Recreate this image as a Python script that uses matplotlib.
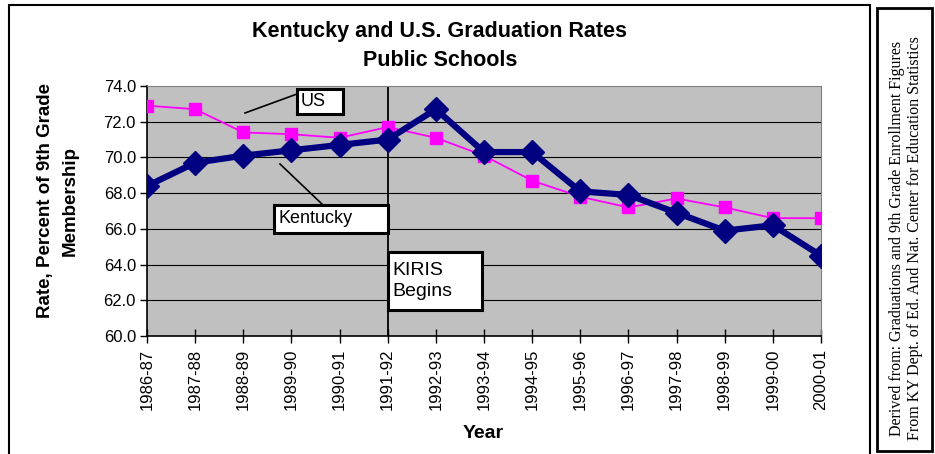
import numpy as np
import matplotlib.pyplot as plt
from matplotlib.patches import Rectangle

plt.rcParams['font.family'] = ['Liberation Sans', 'DejaVu Sans']

years = ['1986-87', '1987-88', '1988-89', '1989-90', '1990-91', '1991-92', '1992-93',
         '1993-94', '1994-95', '1995-96', '1996-97', '1997-98', '1998-99', '1999-00', '2000-01']
kentucky = [68.4, 69.7, 70.1, 70.4, 70.7, 71.0, 72.7, 70.3, 70.3, 68.1, 67.9, 66.9, 65.9, 66.2, 64.5]
us = [72.9, 72.7, 71.4, 71.3, 71.1, 71.7, 71.1, 70.1, 68.7, 67.8, 67.2, 67.7, 67.2, 66.6, 66.6]
yticks = [60.0, 62.0, 64.0, 66.0, 68.0, 70.0, 72.0, 74.0]

W, H = 935, 454
fig = plt.figure(figsize=(W/100, H/100), dpi=100)

# plot area in pixels: left 147, right 821, top 86, bottom 336
ax = fig.add_axes([147/W, 1-336/H, (821-147)/W, (336-86)/H])
ax.set_facecolor('#C0C0C0')
x = np.arange(len(years))

for yv in yticks[1:-1]:
    ax.axhline(yv, color='black', lw=0.8, zorder=1)

ax.axvline(5, color='black', lw=1.3, zorder=2)

ax.plot(x, us, color='#FF00FF', lw=1.3, marker='s', ms=8, zorder=3)
ax.plot(x, kentucky, color='#000080', lw=4.5, marker='D', ms=12, zorder=4)

ax.set_xlim(0, len(years)-1)
ax.set_ylim(60, 74)
ax.set_yticks(yticks)
ax.set_yticklabels(['%.1f' % v for v in yticks], fontsize=12)
ax.set_xticks(x)
ax.set_xticklabels(years, rotation=90, fontsize=12)
ax.tick_params(axis='x', direction='inout', length=10, width=1, pad=4)
ax.tick_params(axis='y', direction='out', length=5, width=1, pad=3)
for s in ['top', 'right']:
    ax.spines[s].set_color('#808080')
for s in ['left', 'bottom']:
    ax.spines[s].set_color('black')
    ax.spines[s].set_linewidth(1.2)


def px(xp, yp):
    return (xp-147)/(674/14), 74 - (yp-86)/(250/14)


# annotation boxes
def box(x0, y0, x1, y1):
    a = px(x0, y1)
    b = px(x1, y0)
    ax.add_patch(Rectangle(a, b[0]-a[0], b[1]-a[1], facecolor='white',
                           edgecolor='black', lw=2.2, zorder=6, clip_on=False))

box(297, 89, 343, 114)
ax.text(*px(301, 102), 'US', fontsize=13, va='center', ha='left', zorder=7)
ax.plot(*zip(px(245, 113), px(297, 94)), color='black', lw=1.2, zorder=5)

box(274, 205, 388, 233)
ax.text(*px(279, 219), 'Kentucky', fontsize=13, va='center', ha='left', zorder=7)
ax.plot(*zip(px(280, 164), px(323, 205)), color='black', lw=1.2, zorder=5)

box(388, 252, 482, 310)
ax.text(*px(392, 281), 'KIRIS\nBegins', fontsize=14, va='center', ha='left',
        linespacing=1.25, zorder=7)

fig.text(440/W, 1-32/H, 'Kentucky and U.S. Graduation Rates', fontsize=15.5,
         fontweight='bold', ha='center', va='center')
fig.text(440/W, 1-60/H, 'Public Schools', fontsize=15.5, fontweight='bold',
         ha='center', va='center')
fig.text(58/W, 1-201/H, 'Rate, Percent of 9th Grade\nMembership', fontsize=13.5,
         fontweight='bold', rotation=90, ha='center', va='center', linespacing=1.65)
fig.text(483/W, 1-433/H, 'Year', fontsize=14, fontweight='bold', ha='center', va='center')

# outer frames
fig.patches.append(Rectangle((9/W, -0.05), 861/W, 1.05-5/H, transform=fig.transFigure,
                             fill=False, edgecolor='black', lw=1.5))
fig.patches.append(Rectangle((877/W, 1-451/H), 55/W, 443/H, transform=fig.transFigure,
                             fill=False, edgecolor='black', lw=2))
fig.text(897/W, 1-238/H, 'Derived from: Graduations and 9th Grade Enrollment Figures',
         family='Liberation Serif', fontsize=11.5, rotation=90, ha='center', va='center')
fig.text(915/W, 1-238/H, 'From KY Dept. of Ed. And Nat. Center for Education Statistics',
         family='Liberation Serif', fontsize=11.5, rotation=90, ha='center', va='center')

fig.savefig('out.png', dpi=100)
